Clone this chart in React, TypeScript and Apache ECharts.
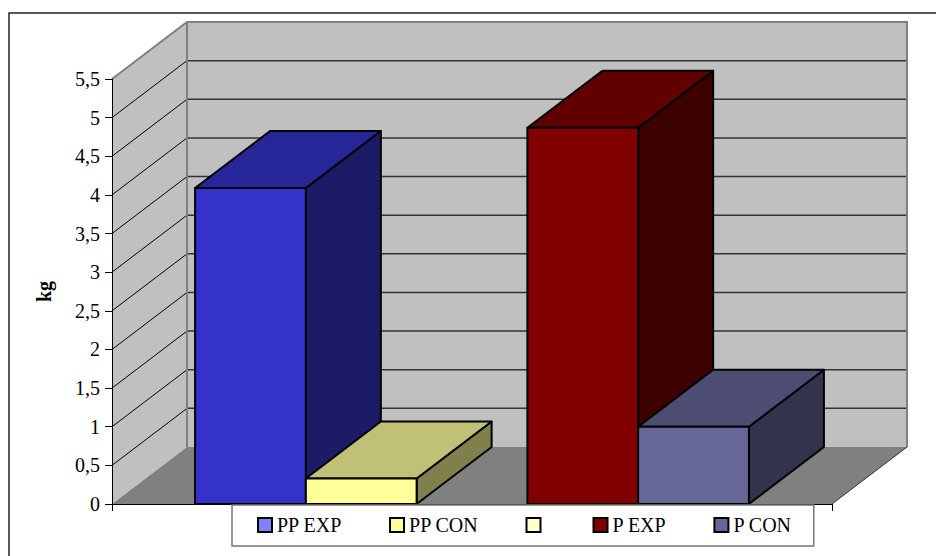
import React, { useEffect, useRef } from 'react';
import * as echarts from 'echarts';

// ---- data ----
const categories = ['kg'];
const seriesNames = ['PP EXP', 'PP CON', '\u200b', 'P EXP', 'P CON'];
const seriesValues: (number | null)[] = [4.09, 0.33, null, 4.87, 1.0];
const yTicks = [0, 0.5, 1, 1.5, 2, 2.5, 3, 3.5, 4, 4.5, 5, 5.5];

// ---- styles ----
const legendColors = ['#8080FF', '#FFFF99', '#FFFFCC', '#800000', '#666699'];
const frontColors = ['#3333CC', '#FFFF99', '#FFFFCC', '#800000', '#666699'];
const topColors = ['#262699', '#C0C077', '#C0C099', '#600000', '#4D4D73'];
const sideColors = ['#1C1C66', '#80804C', '#808066', '#3D0000', '#33334D'];
const DX = 75;
const DY = -57;
const FONT = '"Liberation Serif", "Times New Roman", serif';

export default function App() {
  const ref = useRef<HTMLDivElement>(null);

  useEffect(() => {
    if (!ref.current) return;
    const chart = echarts.init(ref.current, undefined, { renderer: 'svg' });
    const yMax = yTicks[yTicks.length - 1];

    const wallSeries: any = {
      type: 'custom',
      name: 'walls',
      silent: true,
      z: 1,
      data: [[0, 0]],
      renderItem: (params: any, api: any) => {
        const cs = params.coordSys;
        const x0 = cs.x;
        const x1 = cs.x + cs.width;
        const yB = api.coord([0, 0])[1];
        const yT = api.coord([0, yMax])[1];
        const children: any[] = [];
        children.push({
          type: 'polygon',
          shape: { points: [[x0, yT], [x0 + DX, yT + DY], [x0 + DX, yB + DY], [x0, yB]] },
          style: { fill: '#C0C0C0', stroke: 'none' },
        });
        children.push({
          type: 'rect',
          shape: { x: x0 + DX, y: yT + DY, width: x1 - x0, height: yB - yT },
          style: { fill: '#C0C0C0', stroke: 'none' },
        });
        yTicks.forEach((v) => {
          if (v <= 0 || v >= yMax) return;
          const y = api.coord([0, v])[1];
          children.push({
            type: 'line',
            shape: { x1: x0, y1: y, x2: x0 + DX, y2: y + DY },
            style: { stroke: '#000', lineWidth: 1 },
          });
          children.push({
            type: 'line',
            shape: { x1: x0 + DX, y1: y + DY, x2: x1 + DX, y2: y + DY },
            style: { stroke: '#333', lineWidth: 1.5 },
          });
        });
        children.push({
          type: 'polygon',
          shape: { points: [[x0, yB], [x0 + DX, yB + DY], [x1 + DX, yB + DY], [x1, yB]] },
          style: { fill: '#808080', stroke: 'none' },
        });
        children.push({
          type: 'line',
          shape: { x1: x1, y1: yB, x2: x1 + DX, y2: yB + DY },
          style: { stroke: '#333', lineWidth: 1 },
        });
        children.push({
          type: 'polyline',
          shape: { points: [[x0, yT], [x0 + DX, yT + DY], [x1 + DX, yT + DY], [x1 + DX, yB + DY]] },
          style: { fill: 'none', stroke: '#808080', lineWidth: 2 },
        });
        children.push({
          type: 'line',
          shape: { x1: x0 + DX, y1: yT + DY, x2: x0 + DX, y2: yB + DY },
          style: { stroke: '#808080', lineWidth: 2 },
        });
        return { type: 'group', children };
      },
    };

    const barSeries = seriesNames.map((name, i) => ({
      type: 'custom',
      name,
      z: 2,
      itemStyle: { color: legendColors[i] },
      data: seriesValues[i] == null ? [] : [[0, seriesValues[i]]],
      renderItem: (params: any, api: any) => {
        const cat = api.value(0);
        const val = api.value(1);
        const c = api.coord([cat, val]);
        const c0 = api.coord([cat, 0]);
        const band = api.size([1, 0])[0];
        const bw = band / 6.5;
        const xL = c[0] - band / 2 + bw * (0.75 + i);
        const xR = xL + bw;
        const yT = c[1];
        const yB = c0[1];
        const stroke = { stroke: '#000', lineWidth: 2, lineJoin: 'round' };
        return {
          type: 'group',
          children: [
            {
              type: 'polygon',
              shape: { points: [[xR, yT], [xR + DX, yT + DY], [xR + DX, yB + DY], [xR, yB]] },
              style: { fill: sideColors[i], ...stroke },
            },
            {
              type: 'polygon',
              shape: { points: [[xL, yT], [xL + DX, yT + DY], [xR + DX, yT + DY], [xR, yT]] },
              style: { fill: topColors[i], ...stroke },
            },
            {
              type: 'rect',
              shape: { x: xL, y: yT, width: bw, height: yB - yT },
              style: { fill: frontColors[i], ...stroke },
            },
          ],
        };
      },
    }));

    chart.setOption({
      animation: false,
      backgroundColor: '#fff',
      grid: { left: 112, right: 104, top: 79, bottom: 52 },
      xAxis: {
        type: 'category',
        data: categories,
        boundaryGap: true,
        axisLine: { show: true, lineStyle: { color: '#000', width: 1 } },
        axisTick: { show: true, length: 7, lineStyle: { color: '#000' } },
        axisLabel: { show: false },
        splitLine: { show: false },
        z: 5,
      },
      yAxis: {
        type: 'value',
        min: 0,
        max: yMax,
        interval: 0.5,
        name: 'kg',
        nameLocation: 'middle',
        nameRotate: 90,
        nameGap: 58,
        nameTextStyle: { fontFamily: FONT, fontSize: 20, fontWeight: 'bold', color: '#000' },
        axisLine: { show: true, lineStyle: { color: '#000', width: 1 } },
        axisTick: { show: true, length: 7, lineStyle: { color: '#000' } },
        axisLabel: {
          fontFamily: FONT,
          fontSize: 20,
          color: '#000',
          margin: 12,
          formatter: (v: number) => String(v).replace('.', ','),
        },
        splitLine: { show: false },
        z: 5,
      },
      legend: {
        data: seriesNames,
        left: 232,
        top: 505,
        orient: 'horizontal',
        icon: 'rect',
        itemWidth: 14,
        itemHeight: 14,
        itemGap: 47,
        padding: [10, 22, 11, 25],
        backgroundColor: '#fff',
        borderColor: '#777',
        borderWidth: 1.5,
        borderRadius: 0,
        itemStyle: { borderColor: '#000', borderWidth: 2 },
        textStyle: { fontFamily: FONT, fontSize: 20, color: '#000' },
        selectedMode: false,
        z: 10,
      },
      graphic: [
        {
          type: 'rect',
          silent: true,
          z: -10,
          shape: { x: 9, y: 13, width: 960, height: 600 },
          style: { fill: 'none', stroke: '#222', lineWidth: 1.5 },
        },
      ],
      series: [wallSeries, ...barSeries],
    });

    return () => chart.dispose();
  }, []);

  return (
    <div
      ref={ref}
      style={{ position: 'fixed', left: 0, top: 0, width: 936, height: 556 }}
    />
  );
}
